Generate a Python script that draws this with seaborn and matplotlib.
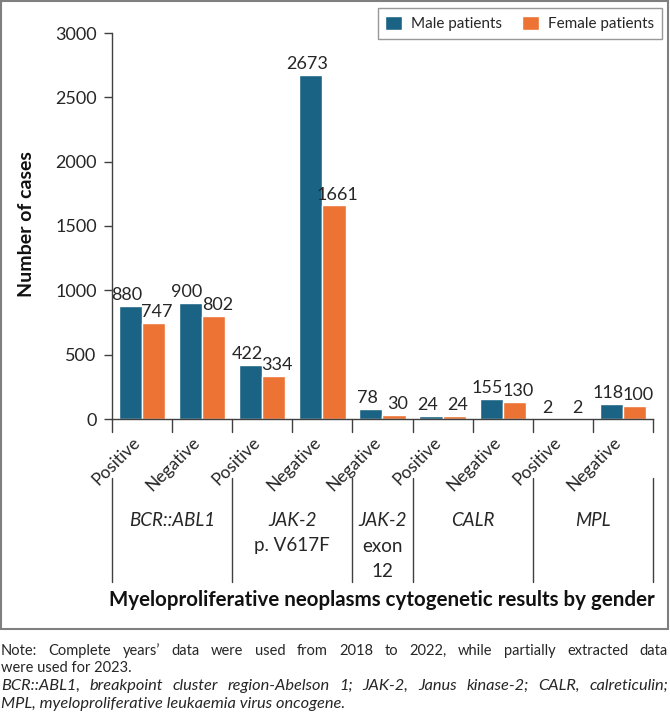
import matplotlib
matplotlib.use('Agg')
import matplotlib.pyplot as plt
import seaborn as sns
import pandas as pd
from matplotlib.patches import Rectangle
from matplotlib.lines import Line2D

# data
group_names = ['BCR::ABL1', 'JAK-2', 'JAK-2', 'CALR', 'MPL']
group_subs = ['', 'p. V617F', 'exon\n12', '', '']
group_sizes = [2, 2, 1, 2, 2]
results = ['Positive', 'Negative', 'Positive', 'Negative', 'Negative',
           'Positive', 'Negative', 'Positive', 'Negative']
male = [880, 900, 422, 2673, 78, 24, 155, 2, 118]
female = [747, 802, 334, 1661, 30, 24, 130, 2, 100]
series = ['Male patients', 'Female patients']
colors = ['#1b6384', '#ec7334']

note_1 = "Note: Complete years\u2019 data were used from 2018 to 2022, while partially extracted data"
note_2 = "were used for 2023."
abbr_1 = "BCR::ABL1, breakpoint cluster region-Abelson 1; JAK-2, Janus kinase-2; CALR, calreticulin;"
abbr_2 = "MPL, myeloproliferative leukaemia virus oncogene."

W, H = 670, 723

slots = [str(i) for i in range(len(results))]
df = pd.DataFrame({
    'slot': slots * 2,
    'cases': male + female,
    'sex': [series[0]] * len(male) + [series[1]] * len(female),
})

sns.set_theme(style='white')
plt.rcParams['font.family'] = ['Lato', 'DejaVu Sans']
ink = '#262626'
axis_col = '#404040'

fig = plt.figure(figsize=(W / 100, H / 100), dpi=100)
ax = fig.add_axes([112 / W, 1 - 419 / H, 541 / W, 386 / H])

sns.barplot(data=df, x='slot', y='cases', hue='sex', order=slots,
            hue_order=series, palette=colors, saturation=1, width=0.77,
            gap=0, ax=ax)

# value labels, nudged apart a little like the original
for c, dx in zip(ax.containers, [-2.5, 2.5]):
    for ann in ax.bar_label(c, fmt='%d', padding=2, fontsize=13, color=ink):
        ann.xyann = (dx, ann.xyann[1])

ax.set_xlim(-0.5, len(slots) - 0.5)
ax.set_ylim(0, 3000)
ax.set_yticks(range(0, 3001, 500))
ax.tick_params(axis='y', labelsize=13, labelcolor=ink, length=6, width=1,
               color=axis_col, direction='out', left=True, pad=5)
ax.set_xticks([])
ax.set_xlabel('')
ax.set_ylabel('')
for s in ['top', 'right']:
    ax.spines[s].set_visible(False)
for s in ['left', 'bottom']:
    ax.spines[s].set_color(axis_col)
    ax.spines[s].set_linewidth(1)

def ay(ypx):
    return (419 - ypx) / 386

tr = ax.get_xaxis_transform()

# category separators (short ticks / long group lines)
bounds = [-0.5]
for n in group_sizes:
    bounds.append(bounds[-1] + n)
for i in range(len(slots) + 1):
    x = i - 0.5
    ax.add_line(Line2D([x, x], [ay(419), ay(432)], transform=tr,
                       color=axis_col, lw=1, clip_on=False))
    if x in bounds:
        ax.add_line(Line2D([x, x], [ay(478), ay(582)], transform=tr,
                           color=axis_col, lw=1, clip_on=False))

for i, r in enumerate(results):
    ax.text(i + 0.02, ay(434), r, rotation=45, ha='right', va='top', transform=tr,
            fontsize=12.5, color=ink)

for k, (name, sub) in enumerate(zip(group_names, group_subs)):
    cx = (bounds[k] + bounds[k + 1]) / 2
    ax.text(cx, ay(521), name, style='italic', ha='center', va='center',
            transform=tr, fontsize=13.5, color=ink)
    for j, line in enumerate(sub.split('\n') if sub else []):
        ax.text(cx, ay(546 + 25 * j), line, ha='center', va='center',
                transform=tr, fontsize=13.5, color=ink)

fig.text(382 / W, 1 - 600 / H,
         'Myeloproliferative neoplasms cytogenetic results by gender',
         ha='center', va='center', fontsize=14.8, weight='bold', color='#111111')
fig.text(27 / W, 1 - 224 / H, 'Number of cases', rotation=90, ha='center',
         va='center', fontsize=14, weight='bold', color='#111111')

handles, labels = ax.get_legend_handles_labels()
leg = ax.legend(handles, labels, loc='upper right', ncol=2,
                bbox_to_anchor=(662 / W, 1 - 8 / H), bbox_transform=fig.transFigure,
                frameon=True, fancybox=False, edgecolor='#7f7f7f', fontsize=11,
                handlelength=1.1, handleheight=1.1, handletextpad=0.6,
                columnspacing=1.3, borderpad=0.5, borderaxespad=0)
leg.get_frame().set_linewidth(1)
for t in leg.get_texts():
    t.set_color(ink)

fig.patches.append(Rectangle((1 / W, 1 - 629 / H), 667 / W, 628 / H,
                             transform=fig.transFigure, fill=False,
                             edgecolor='#7f7f7f', lw=1.5))

renderer = fig.canvas.get_renderer()

def justified(text, ypx, size, x0=1, x1=668, **kw):
    words = text.split(' ')
    arts = [fig.text(0, 1 - ypx / H, w, va='center', fontsize=size, color=ink, **kw)
            for w in words]
    widths = [a.get_window_extent(renderer).width for a in arts]
    gap = (x1 - x0 - sum(widths)) / (len(words) - 1)
    x = x0
    for a, w in zip(arts, widths):
        a.set_x(x / W)
        x += w + gap

justified(note_1, 651, 10.5)
fig.text(1 / W, 1 - 668 / H, note_2, va='center', fontsize=10.5, color=ink)
justified(abbr_1, 686, 11.8, style='italic')
fig.text(1 / W, 1 - 704 / H, abbr_2, va='center', fontsize=11.8, color=ink,
         style='italic')

fig.savefig('out.png', dpi=100)
